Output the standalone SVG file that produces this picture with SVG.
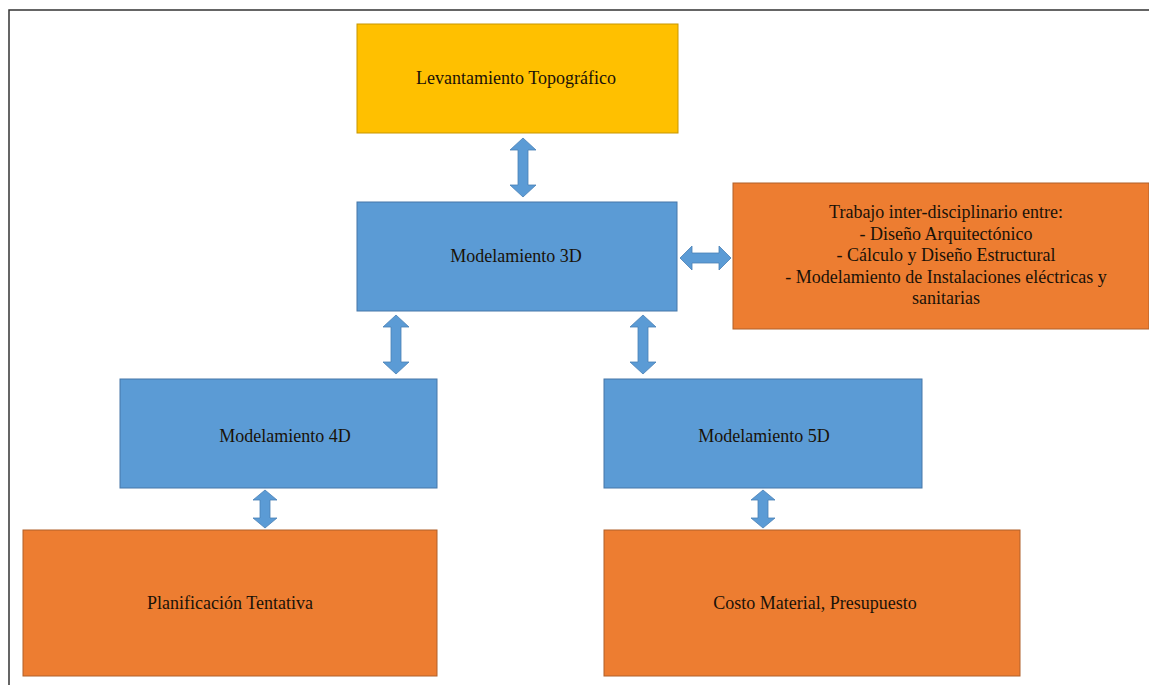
<svg xmlns="http://www.w3.org/2000/svg" width="1149" height="685" viewBox="0 0 1149 685">
<style>
.t{font-family:"Liberation Serif","Times New Roman",serif;font-size:18px;fill:#1a1208;text-anchor:middle}
.y{fill:#FFC000;stroke:#C79600;stroke-width:1}
.b{fill:#5B9BD5;stroke:#4677A8;stroke-width:1}
.o{fill:#ED7D31;stroke:#B0602A;stroke-width:1}
.a{fill:#5B9BD5;stroke:#4A80B5;stroke-width:0.8}
</style>
<rect width="1149" height="685" fill="#ffffff"/>
<path d="M9,685 V10 H1149" fill="none" stroke="#333" stroke-width="1.5"/>
<g id="connectors">
<path class="a" d="M523,138 L536,150 L528,150 L528,185 L536,185 L523,197 L510,185 L518,185 L518,150 L510,150 Z"/>
<path class="a" d="M396,315 L409,327 L401,327 L401,362 L409,362 L396,374 L383,362 L391,362 L391,327 L383,327 Z"/>
<path class="a" d="M643,315 L656,327 L648,327 L648,362 L656,362 L643,374 L630,362 L638,362 L638,327 L630,327 Z"/>
<path class="a" d="M680,258 L692,246 L692,253 L719,253 L719,246 L731,258 L719,270 L719,263 L692,263 L692,270 Z"/>
<path class="a" d="M265,490 L277,500 L270,500 L270,518 L277,518 L265,528 L253,518 L260,518 L260,500 L253,500 Z"/>
<path class="a" d="M763,490 L775,500 L768,500 L768,518 L775,518 L763,528 L751,518 L758,518 L758,500 L751,500 Z"/>
</g>
<g id="levantamiento">
<rect class="y" x="357" y="24" width="321" height="109"/>
<text class="t" x="516" y="84">Levantamiento Topográfico</text>
</g>
<g id="modelamiento3d">
<rect class="b" x="357" y="202" width="320" height="109"/>
<text class="t" x="516" y="262">Modelamiento 3D</text>
</g>
<g id="trabajo">
<rect class="o" x="733" y="183" width="416" height="146"/>
<text class="t" x="946" y="218">Trabajo inter-disciplinario entre:</text>
<text class="t" x="946" y="240">- Diseño Arquitectónico</text>
<text class="t" x="946" y="261">- Cálculo y Diseño Estructural</text>
<text class="t" x="946" y="283">- Modelamiento de Instalaciones eléctricas y</text>
<text class="t" x="946" y="304">sanitarias</text>
</g>
<g id="modelamiento4d">
<rect class="b" x="120" y="379" width="317" height="109"/>
<text class="t" x="285" y="442">Modelamiento 4D</text>
</g>
<g id="modelamiento5d">
<rect class="b" x="604" y="379" width="318" height="109"/>
<text class="t" x="764" y="442">Modelamiento 5D</text>
</g>
<g id="planificacion">
<rect class="o" x="23" y="530" width="414" height="146"/>
<text class="t" x="230" y="609">Planificación Tentativa</text>
</g>
<g id="costo">
<rect class="o" x="604" y="530" width="416" height="146"/>
<text class="t" x="815" y="609">Costo Material, Presupuesto</text>
</g>
</svg>
